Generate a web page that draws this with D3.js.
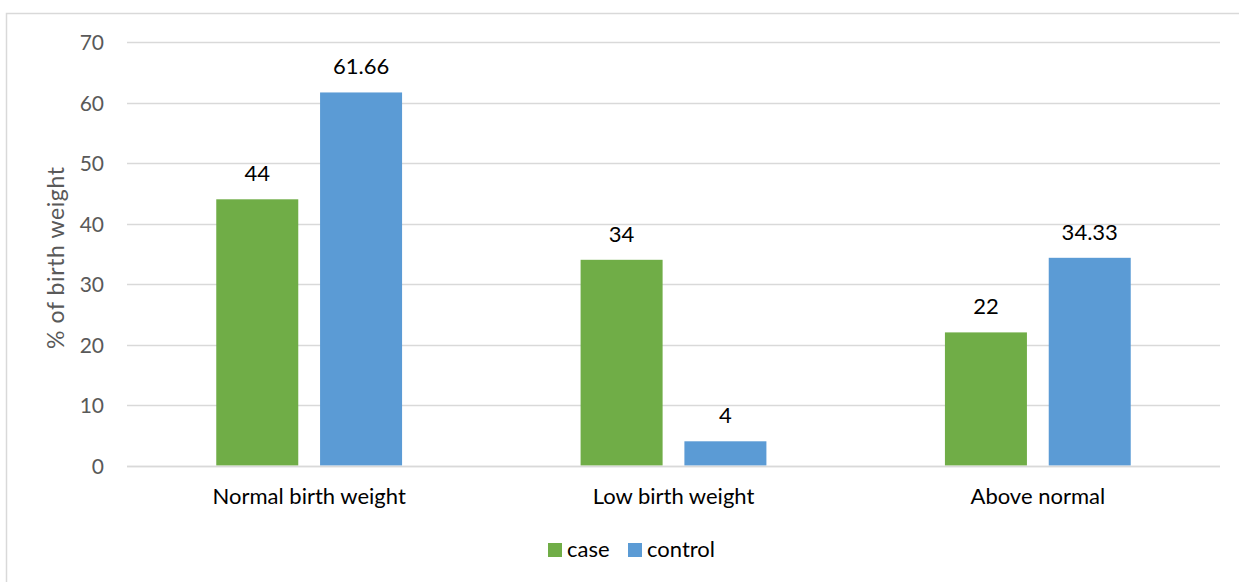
<!DOCTYPE html>
<html>
<head>
<meta charset="utf-8">
<script src="https://cdn.jsdelivr.net/npm/d3@7"></script>
<style>
  html, body { margin: 0; padding: 0; background: #ffffff; }
  svg { display: block; }
  text { font-family: Lato, "Open Sans", sans-serif; }
</style>
</head>
<body>
<svg id="chart" width="1239" height="582"></svg>
<script>
// Birth weight distribution (%) for case and control groups
const categories = ["Normal birth weight", "Low birth weight", "Above normal"];
const seriesNames = ["case", "control"];
const caseValues = [44, 34, 22];
const controlValues = [61.66, 4, 34.33];
const yTicks = [0, 10, 20, 30, 40, 50, 60, 70];
const colors = ["#70AD47", "#5B9BD5"];

const svg = d3.select("#chart");
const W = 1239, H = 582;

// outer chart frame
svg.append("rect")
  .attr("x", 6.5).attr("y", 13.5)
  .attr("width", W + 10).attr("height", H + 10)
  .attr("fill", "#ffffff").attr("stroke", "#d9d9d9").attr("stroke-width", 1.5);

const plot = { left: 127, right: 1220, top: 42, bottom: 465.5 };

const x0 = d3.scaleBand()
  .domain(categories)
  .range([plot.left, plot.right])
  .paddingInner(0.49).paddingOuter(0.245);

const x1 = d3.scaleBand()
  .domain(seriesNames)
  .range([0, x0.bandwidth()])
  .paddingInner(0.21);

const y = d3.scaleLinear().domain([0, 70]).range([plot.bottom, plot.top]);

// horizontal gridlines
svg.append("g").selectAll("line").data(yTicks).join("line")
  .attr("x1", plot.left).attr("x2", plot.right)
  .attr("y1", d => Math.round(y(d)) + 0.5).attr("y2", d => Math.round(y(d)) + 0.5)
  .attr("stroke", "#d9d9d9").attr("stroke-width", 1.5);

// y axis tick labels
const yAxis = d3.axisLeft(y).tickValues(yTicks).tickSize(0).tickPadding(0);
const gy = svg.append("g").attr("transform", `translate(104,0)`).call(yAxis);
gy.select(".domain").remove();
gy.selectAll("text")
  .attr("fill", "#595959")
  .style("font-size", "21px")
  .attr("dy", "0.36em");

// y axis title
svg.append("text")
  .attr("transform", `translate(64,${(plot.top + plot.bottom) / 2 + 4}) rotate(-90)`)
  .attr("text-anchor", "middle")
  .attr("fill", "#595959")
  .style("font-size", "23px")
  .style("letter-spacing", "0.6px")
  .text("% of birth weight");

// bars
const rows = categories.map((c, i) => ({
  category: c,
  values: [
    { series: seriesNames[0], value: caseValues[i] },
    { series: seriesNames[1], value: controlValues[i] }
  ]
}));
const color = d3.scaleOrdinal().domain(seriesNames).range(colors);

const groups = svg.append("g").selectAll("g").data(rows).join("g")
  .attr("transform", d => `translate(${x0(d.category)},0)`);

groups.selectAll("rect").data(d => d.values).join("rect")
  .attr("x", d => x1(d.series))
  .attr("width", x1.bandwidth())
  .attr("y", d => y(d.value))
  .attr("height", d => y(0) - y(d.value))
  .attr("fill", d => color(d.series));

// value labels
groups.selectAll("text.val").data(d => d.values).join("text")
  .attr("class", "val")
  .attr("x", d => x1(d.series) + x1.bandwidth() / 2)
  .attr("y", d => y(d.value) - 18)
  .attr("text-anchor", "middle")
  .attr("fill", "#000000")
  .style("font-size", "22px")
  .text(d => d.value);

// baseline axis line
svg.append("line")
  .attr("x1", plot.left).attr("x2", plot.right)
  .attr("y1", Math.round(y(0)) + 0.5).attr("y2", Math.round(y(0)) + 0.5)
  .attr("stroke", "#d9d9d9").attr("stroke-width", 1.5);

// category labels
const xAxis = d3.axisBottom(x0).tickSize(0).tickPadding(0);
const gx = svg.append("g").attr("transform", `translate(0,504)`).call(xAxis);
gx.select(".domain").remove();
gx.selectAll("text")
  .attr("fill", "#000000")
  .attr("dy", 0)
  .style("font-size", "22px");

// legend
const legendItems = [
  { name: seriesNames[0], x: 548 },
  { name: seriesNames[1], x: 628 }
];
const lg = svg.append("g").selectAll("g").data(legendItems).join("g")
  .attr("transform", d => `translate(${d.x},543)`);
lg.append("rect").attr("width", 14).attr("height", 14)
  .attr("fill", d => color(d.name));
lg.append("text").attr("x", 19).attr("y", 14)
  .attr("fill", "#000000")
  .style("font-size", "22px")
  .text(d => d.name);
</script>
</body>
</html>
